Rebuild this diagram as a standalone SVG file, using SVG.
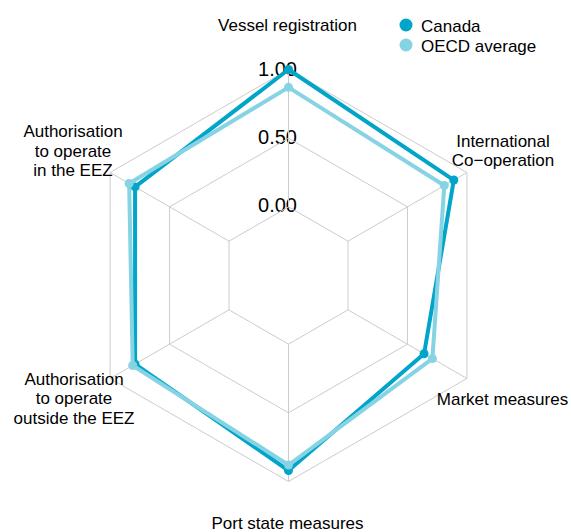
<svg xmlns="http://www.w3.org/2000/svg" width="571" height="532" viewBox="0 0 571 532">
<style>
text{font-family:"Liberation Sans",Arial,sans-serif;fill:#000}
.lab{font-size:17px;text-anchor:middle}
.tick{font-size:20px;text-anchor:middle}
.leg{font-size:17px}
.grid{fill:none;stroke:#cccccc;stroke-width:1}
.ca{fill:none;stroke:#00A5C9;stroke-width:4;stroke-linejoin:round}
.oe{fill:none;stroke:#86D3E4;stroke-width:4;stroke-linejoin:round}
.cad{fill:#00A5C9}
.oed{fill:#86D3E4}
</style>
<rect width="571" height="532" fill="#ffffff"/>
<g id="ticks">
<text class="tick" x="277.5" y="75.5">1.00</text>
<text class="tick" x="277.5" y="144">0.50</text>
<text class="tick" x="277.5" y="212.3">0.00</text>
</g>
<g id="grid">
<polygon class="grid" points="288.5,206.83 347.97,241.17 347.97,309.83 288.5,344.17 229.03,309.83 229.03,241.17"/>
<polygon class="grid" points="288.5,138.17 407.43,206.83 407.43,344.17 288.5,412.83 169.57,344.17 169.57,206.83"/>
<polygon class="grid" points="288.5,69.5 466.9,172.5 466.9,378.5 288.5,481.5 110.1,378.5 110.1,172.5"/>
<path class="grid" d="M288.5,206.83V69.5M347.97,241.17L466.9,172.5M347.97,309.83L466.9,378.5M288.5,344.17V481.5M229.03,309.83L110.1,378.5M229.03,241.17L110.1,172.5"/>
</g>
<g id="axis-labels">
<text class="lab" x="287.5" y="31">Vessel registration</text>
<text class="lab" x="503" y="147">International</text>
<text class="lab" x="503" y="166">Co−operation</text>
<text class="lab" x="502.5" y="404.5">Market measures</text>
<text class="lab" x="287.5" y="528.5">Port state measures</text>
<text class="lab" x="73" y="137">Authorisation</text>
<text class="lab" x="73" y="156.5">to operate</text>
<text class="lab" x="73" y="176">in the EEZ</text>
<text class="lab" x="74" y="385">Authorisation</text>
<text class="lab" x="74" y="404.3">to operate</text>
<text class="lab" x="74" y="423.5">outside the EEZ</text>
</g>
<g id="connectors">
<g id="canada">
<polygon class="ca" points="288.5,69.5 453.81,180.05 424.08,353.78 288.5,470.51 135.08,364.08 135.08,186.92"/>
<circle class="cad" cx="288.5" cy="69.5" r="4.5"/>
<circle class="cad" cx="453.81" cy="180.05" r="4.5"/>
<circle class="cad" cx="424.08" cy="353.78" r="4.5"/>
<circle class="cad" cx="288.5" cy="470.51" r="4.5"/>
<circle class="cad" cx="135.08" cy="364.08" r="4.5"/>
<circle class="cad" cx="135.08" cy="186.92" r="4.5"/>
</g>
<g id="oecd">
<polygon class="oe" points="288.5,87.35 444.3,185.54 432.41,358.59 288.5,465.02 132.7,365.46 129.13,183.49"/>
<circle class="oed" cx="288.5" cy="87.35" r="4.5"/>
<circle class="oed" cx="444.3" cy="185.54" r="4.5"/>
<circle class="oed" cx="432.41" cy="358.59" r="4.5"/>
<circle class="oed" cx="288.5" cy="465.02" r="4.5"/>
<circle class="oed" cx="132.7" cy="365.46" r="4.5"/>
<circle class="oed" cx="129.13" cy="183.49" r="4.5"/>
</g>
</g>
<g id="legend">
<circle class="cad" cx="406" cy="25" r="6.5"/>
<text class="leg" x="421" y="31.5">Canada</text>
<circle class="oed" cx="406" cy="45" r="6.5"/>
<text class="leg" x="421" y="52">OECD average</text>
</g>
</svg>
